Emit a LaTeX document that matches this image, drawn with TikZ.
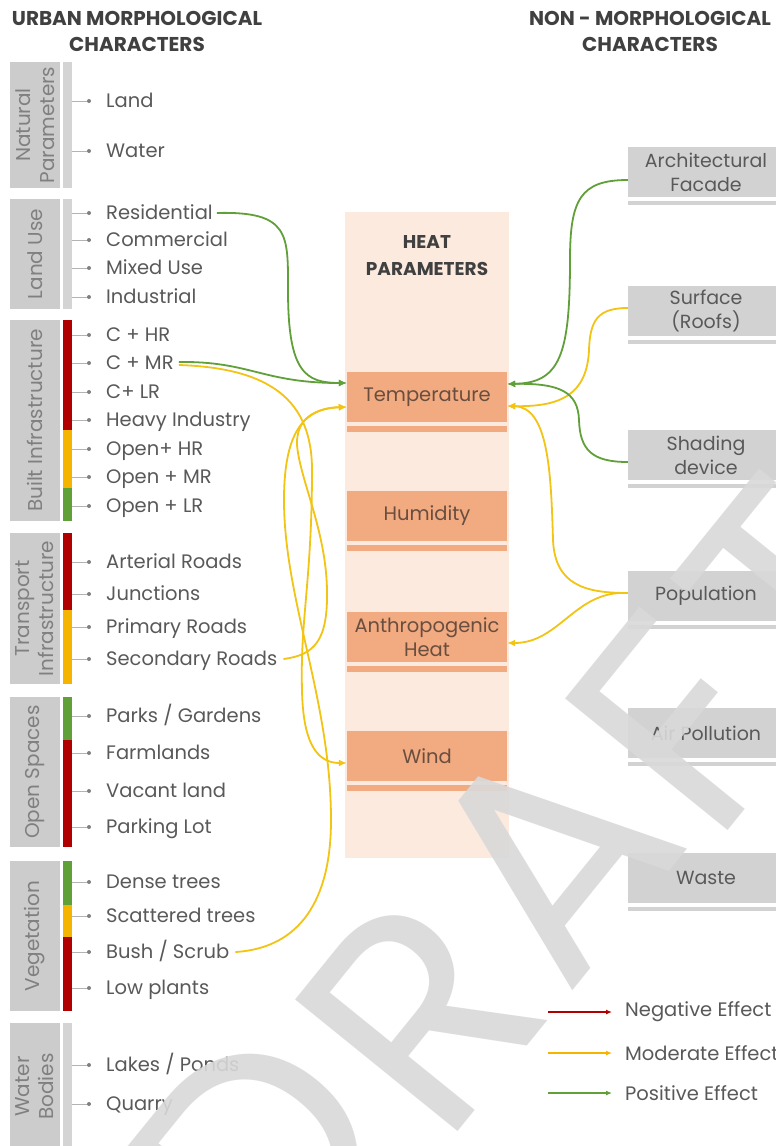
\documentclass[tikz,border=0pt]{standalone}
\usepackage{fontspec}
\setmainfont{Poppins}
\usetikzlibrary{arrows.meta}

\definecolor{txtgray}{RGB}{89,89,89}
\definecolor{headgray}{RGB}{64,64,64}
\definecolor{boxgray}{RGB}{204,204,204}
\definecolor{lblgray}{RGB}{128,128,128}
\definecolor{bargray}{RGB}{212,212,212}
\definecolor{negred}{RGB}{176,0,0}
\definecolor{modorange}{RGB}{244,180,0}
\definecolor{posgreen}{RGB}{96,160,56}
\definecolor{curveyellow}{RGB}{242,196,20}
\definecolor{heatbg}{RGB}{252,234,222}
\definecolor{heatfill}{RGB}{242,170,128}
\definecolor{heattext}{RGB}{105,78,64}
\definecolor{nonmorph}{RGB}{210,210,210}
\definecolor{draftgray}{RGB}{217,217,217}

\begin{document}
\begin{tikzpicture}[x=1pt,y=-1pt,
  head/.style={font=\bfseries\fontsize{20}{26}\selectfont,text=headgray,align=center},
  item/.style={anchor=west,inner sep=0pt,text height=13pt,text depth=0pt,text=txtgray,font=\fontsize{19.5}{22}\selectfont},
  group/.style={fill=boxgray,rotate=90,align=center,inner sep=0pt,minimum height=50pt,text=lblgray,font=\fontsize{20}{24}\selectfont},
  tickline/.style={draw=lblgray!60,line width=0.8pt},
  heatbox/.style={fill=heatfill,minimum width=160pt,minimum height=50pt,inner sep=0pt,align=center,text=heattext,font=\fontsize{19.5}{24}\selectfont},
  nmbox/.style={fill=nonmorph,minimum width=156pt,minimum height=50pt,inner sep=0pt,align=center,text=txtgray,font=\fontsize{19}{24}\selectfont},
  effect/.style={line width=1.8pt,-{Latex[length=8pt,width=7pt]}},
  legarrow/.style={line width=1.2pt,-{Latex[length=6pt,width=5pt]}},
  legtext/.style={anchor=west,inner sep=0pt,text=txtgray,font=\fontsize{19.5}{22}\selectfont},
  draft/.style={text=draftgray,opacity=0.9,rotate=51,inner sep=0pt,font=\fontsize{300}{300}\selectfont}]
  \useasboundingbox (0,0) rectangle (776,1146);
  \fill[white] (0,0) rectangle (776,1146);

  % headers
  \node[head] (urban) at (137,31) {URBAN MORPHOLOGICAL\\CHARACTERS};
  \node[head] (nonurban) at (650,31) {NON - MORPHOLOGICAL\\CHARACTERS};

  % left groups
  \node[group,minimum width=126pt] (natural) at (35,125) {Natural\\Parameters};
  \node[group,minimum width=110pt] (landuse) at (35,254) {Land Use};
  \node[group,minimum width=201pt] (built) at (35,420.5) {Built Infrastructure};
  \node[group,minimum width=151pt] (transport) at (35,608.5) {Transport\\Infrastructure};
  \node[group,minimum width=150pt] (open) at (35,772) {Open Spaces};
  \node[group,minimum width=150pt] (veget) at (35,936) {Vegetation};
  \node[group,minimum width=127pt] (waterb) at (35,1086.5) {Water\\Bodies};

  % bars
  \fill[bargray] (63,62) rectangle (72,188);
  \fill[bargray] (63,199) rectangle (72,309);
  \fill[negred] (63,320) rectangle (72,430);
  \fill[modorange] (63,430) rectangle (72,488);
  \fill[posgreen] (63,488) rectangle (72,521);
  \fill[negred] (63,533) rectangle (72,610);
  \fill[modorange] (63,610) rectangle (72,684);
  \fill[posgreen] (63,697) rectangle (72,740);
  \fill[negred] (63,740) rectangle (72,847);
  \fill[posgreen] (63,861) rectangle (72,905);
  \fill[modorange] (63,905) rectangle (72,937);
  \fill[negred] (63,937) rectangle (72,1011);
  \fill[bargray] (63,1023) rectangle (72,1150);

  % items
  \foreach \name/\ypos/\txt in {land/101/Land, water/151/Water,
      resid/213/Residential, comm/240/Commercial, mixed/268/Mixed Use, indus/297/Industrial,
      chr/335/C + HR, cmr/363/C + MR, clr/392/C+ LR, heavy/420/Heavy Industry,
      ohr/449/Open+ HR, omr/477/Open + MR, olr/506/Open + LR,
      arterial/562/Arterial Roads, junct/594/Junctions, primary/627/Primary Roads, secondary/659/Secondary Roads,
      parks/716/{Parks / Gardens}, farm/753/Farmlands, vacant/791/Vacant land, parking/827/Parking Lot,
      dense/882/Dense trees, scatter/916/Scattered trees, bush/952/{Bush / Scrub}, low/988/Low plants,
      lakes/1065/{Lakes / Ponds}, quarry/1104/Quarry} {
    \node[item] (\name) at (106,\ypos) {\txt};
    \draw[tickline] ([xshift=-34pt]\name.west) -- ([xshift=-17pt]\name.west);
    \fill[lblgray] ([xshift=-17pt]\name.west) circle (2);
  }

  % heat parameters
  \node[fill=heatbg,minimum width=164pt,minimum height=646pt,inner sep=0pt] (heatcol) at (427,535) {};
  \node[head,font=\bfseries\fontsize{18.5}{27}\selectfont] (heattitle) at (427,256) {HEAT\\PARAMETERS};
  \foreach \name/\ypos/\txt in {temp/397/Temperature, humid/516/Humidity, anth/637/Anthropogenic\\Heat, wind/756/Wind} {
    \node[heatbox] (\name) at (427,\ypos) {\txt};
    \fill[heatfill] ([yshift=-4pt]\name.south west) rectangle ([yshift=-10pt]\name.south east);
  }

  % non-morphological
  \foreach \name/\ypos/\txt in {arch/172/Architectural\\Facade, surface/311/Surface\\(Roofs), shading/455/Shading\\device,
      popul/596/Population, air/733/Air Pollution, waste/878/Waste} {
    \node[nmbox] (\name) at (706,\ypos) {\txt};
    \fill[nonmorph] ([yshift=-4pt]\name.south west) rectangle ([yshift=-8pt]\name.south east);
  }

  \coordinate (tempLa) at ([yshift=14pt]temp.west);
  \coordinate (tempLb) at ([yshift=-10pt]temp.west);
  \coordinate (tempRa) at ([yshift=13pt]temp.east);
  \coordinate (tempRb) at ([yshift=-9pt]temp.east);
  \coordinate (windL) at ([yshift=-7pt]wind.west);
  \coordinate (anthR) at ([yshift=-6pt]anth.east);

  % left connectors
  \draw[effect,posgreen] ([xshift=4pt]resid.east) .. controls (290,211) and (288,235) .. (288,290)
    .. controls (288,372) and (305,383) .. (tempLa);
  \draw[effect,posgreen] ([xshift=5pt,yshift=1pt]cmr.east) .. controls (250,361) and (262,383) .. (tempLa);
  \draw[effect,curveyellow] ([xshift=5pt,yshift=-2pt]cmr.east) .. controls (270,368) and (312,400) .. (312,470)
    .. controls (312,580) and (300,620) .. (302,690) .. controls (303,745) and (318,763) .. (windL);
  \draw[effect,curveyellow] ([xshift=6pt]secondary.east) .. controls (315,655) and (328,640) .. (327,590)
    .. controls (326,530) and (300,480) .. (297,445) .. controls (296,415) and (320,408) .. (tempLb);
  \draw[effect,curveyellow] ([xshift=6pt]bush.east) .. controls (300,948) and (331,900) .. (331,820)
    .. controls (331,700) and (284,600) .. (284,500) .. controls (284,430) and (305,408) .. (tempLb);

  % right connectors
  \draw[effect,posgreen] ([yshift=-8pt]arch.west) .. controls (580,180) and (570,200) .. (570,260)
    .. controls (570,355) and (560,383) .. (tempRa);
  \draw[effect,curveyellow] ([yshift=3pt]surface.west) .. controls (598,308) and (590,320) .. (589,350)
    .. controls (587,395) and (560,407) .. (tempRb);
  \draw[effect,posgreen] ([yshift=-7pt]shading.west) .. controls (592,462) and (580,450) .. (579,420)
    .. controls (578,392) and (560,383) .. (tempRa);
  \draw[effect,curveyellow] ([yshift=3pt]popul.west) .. controls (585,593) and (555,585) .. (553,540)
    .. controls (551,470) and (548,407) .. (tempRb);
  \draw[effect,curveyellow] ([yshift=3pt]popul.west) .. controls (575,590) and (560,643) .. (anthR);

  % legend
  \node[legtext] (neg) at (625,1012) {Negative Effect};
  \node[legtext] (mod) at (625,1053) {Moderate Effect};
  \node[legtext] (pos) at (625,1093) {Positive Effect};
  \draw[legarrow,negred] ([xshift=-77pt]neg.west) -- ([xshift=-13pt]neg.west);
  \draw[legarrow,modorange] ([xshift=-77pt]mod.west) -- ([xshift=-13pt]mod.west);
  \draw[legarrow,posgreen] ([xshift=-77pt]pos.west) -- ([xshift=-13pt]pos.west);

  % watermark
  \foreach \name/\xpos/\ypos/\letter in {draftD/258/1152/D, draftR/420/1013/R, draftA/549/854/A,
      draftF/680/724/F, draftT/796/590/T} {
    \node[draft] (\name) at (\xpos,\ypos) {\letter};
  }
\end{tikzpicture}
\end{document}
